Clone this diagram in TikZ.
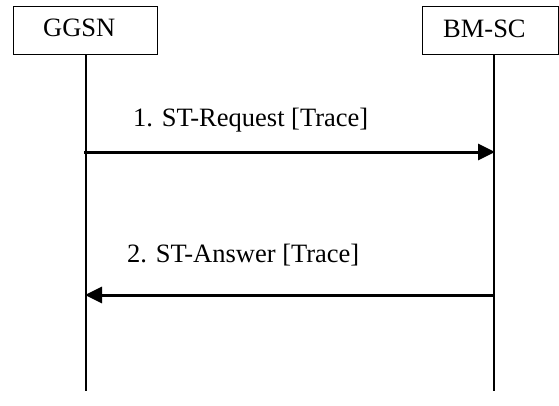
\documentclass[tikz,border=0pt]{standalone}
\usepackage{fontspec}
\setmainfont{Liberation Serif}
\usetikzlibrary{arrows.meta}
\begin{document}
\begin{tikzpicture}[x=1pt,y=1pt,
  entity/.style={draw=black, line width=1pt, minimum width=144pt, minimum height=48pt, inner sep=0pt},
  lbl/.style={font=\fontsize{26.5}{30}\selectfont, inner sep=0pt, anchor=base west},
  lifeline/.style={line width=1.3pt},
  msg/.style={line width=3pt, -{Triangle[length=17pt,width=16pt]}, shorten >=-1pt}]
\useasboundingbox (0,0) rectangle (559,405);
\fill[white] (0,0) rectangle (559,405);
\node[entity] (ggsn) at (85,374) {};
\node[entity, minimum width=136pt] (bmsc) at (490,374) {};
\node[lbl] (ggsnt) at (43,368) {GGSN};
\node[lbl] (bmsct) at (443,367) {BM-SC};
\coordinate (gtop) at (86,350);
\coordinate (gbot) at (86,14);
\coordinate (btop) at (494,350);
\coordinate (bbot) at (494,14);
\draw[lifeline] (gtop) -- (gbot);
\draw[lifeline] (btop) -- (bbot);
\coordinate (m1s) at (84,253);
\coordinate (m1e) at (494,253);
\coordinate (m2s) at (494,110);
\coordinate (m2e) at (86,110);
\draw[msg] (m1s) -- (m1e);
\draw[msg] (m2s) -- (m2e);
\node[lbl] (l1) at (133,278) {1. ST-Request [Trace]};
\node[lbl] (l2) at (127,143) {2. ST-Answer [Trace]};
\end{tikzpicture}
\end{document}
